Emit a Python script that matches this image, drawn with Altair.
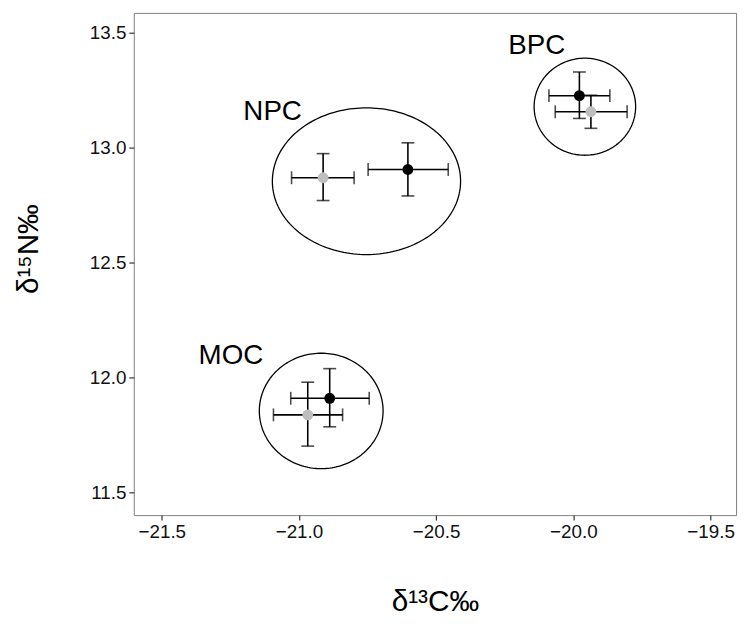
import altair as alt
import numpy as np
import pandas as pd

# ---- data ----
groups = ["NPC", "NPC", "BPC", "BPC", "MOC", "MOC"]
kinds = ["black", "gray", "black", "gray", "black", "gray"]
x_mean = [-20.603, -20.912, -19.978, -19.936, -20.888, -20.968]
x_lo = [-20.748, -21.027, -20.089, -20.066, -21.030, -21.093]
x_hi = [-20.456, -20.799, -19.867, -19.804, -20.744, -20.841]
y_mean = [12.905, 12.869, 13.226, 13.156, 11.910, 11.838]
y_lo = [12.790, 12.770, 13.127, 13.084, 11.786, 11.702]
y_hi = [13.021, 12.974, 13.329, 13.228, 12.039, 11.980]

ell_group = ["NPC", "BPC", "MOC"]
ell_cx = [-20.754, -19.958, -20.919]
ell_cy = [12.854, 13.178, 11.855]
ell_rx = [0.343, 0.185, 0.2255]
ell_ry = [0.319, 0.211, 0.251]

label_text = ["NPC", "BPC", "MOC"]
label_x = [-21.096, -20.133, -21.248]
label_y = [13.153, 13.443, 12.095]

x_ticks = [-21.5, -21.0, -20.5, -20.0, -19.5]
y_ticks = [11.5, 12.0, 12.5, 13.0, 13.5]

df = pd.DataFrame({
    "group": groups, "kind": kinds,
    "x": x_mean, "x_lo": x_lo, "x_hi": x_hi,
    "y": y_mean, "y_lo": y_lo, "y_hi": y_hi,
})

rows = []
theta = np.linspace(0, 2 * np.pi, 181)
for g, cx, cy, rx, ry in zip(ell_group, ell_cx, ell_cy, ell_rx, ell_ry):
    for i, t in enumerate(theta):
        rows.append({"group": g, "i": i, "x": cx + rx * np.cos(t), "y": cy + ry * np.sin(t)})
df_ell = pd.DataFrame(rows)

df_lab = pd.DataFrame({"label": label_text, "x": label_x, "y": label_y})

X_DOM = [-21.602, -19.407]
Y_DOM = [11.402, 13.586]

xs = alt.Scale(domain=X_DOM, nice=False, zero=False)
ys = alt.Scale(domain=Y_DOM, nice=False, zero=False)

xax = alt.Axis(values=x_ticks, format=".1f", title="δ¹³C‰", titlePadding=45)
yax = alt.Axis(values=y_ticks, format=".1f", title="δ¹⁵N‰", titlePadding=46, titleY=238)

X = alt.X("x:Q", scale=xs, axis=xax)
Y = alt.Y("y:Q", scale=ys, axis=yax)

ellipses = alt.Chart(df_ell).mark_line(color="black", strokeWidth=1.3, clip=True).encode(
    x=X, y=Y, detail="group:N", order="i:Q"
)

base = alt.Chart(df)

hbar = base.mark_rule(color="black", strokeWidth=1.6).encode(
    x=alt.X("x_lo:Q", scale=xs), x2="x_hi:Q", y=alt.Y("y:Q", scale=ys)
)
vbar = base.mark_rule(color="black", strokeWidth=1.6).encode(
    y=alt.Y("y_lo:Q", scale=ys), y2="y_hi:Q", x=alt.X("x:Q", scale=xs)
)
hcaps = base.transform_fold(["x_lo", "x_hi"], as_=["k", "xv"]).mark_tick(
    color="black", orient="vertical", size=13, thickness=1.6
).encode(x=alt.X("xv:Q", scale=xs), y=alt.Y("y:Q", scale=ys))
vcaps = base.transform_fold(["y_lo", "y_hi"], as_=["k", "yv"]).mark_tick(
    color="black", orient="horizontal", size=13, thickness=1.6
).encode(y=alt.Y("yv:Q", scale=ys), x=alt.X("x:Q", scale=xs))

points = base.mark_circle(size=120, opacity=1).encode(
    x=alt.X("x:Q", scale=xs),
    y=alt.Y("y:Q", scale=ys),
    color=alt.Color("kind:N", scale=alt.Scale(domain=["black", "gray"], range=["#000000", "#BEBEBE"]), legend=None),
)

labels = alt.Chart(df_lab).mark_text(
    font="Liberation Sans", fontSize=28, color="black", align="center", baseline="middle"
).encode(x=alt.X("x:Q", scale=xs), y=alt.Y("y:Q", scale=ys), text="label:N")

chart = alt.layer(ellipses, hbar, vbar, hcaps, vcaps, points, labels).properties(
    width=608, height=507,
    autosize=alt.AutoSizeParams(type="none"),
    padding={"left": 127, "top": 2, "right": 6, "bottom": 108},
).configure_view(
    stroke="#7F7F7F", strokeWidth=1
).configure_axis(
    grid=False, domain=False, tickColor="#333333", tickSize=5, tickWidth=1.2,
    labelFont="Liberation Sans", labelFontSize=19, labelColor="#111111", labelPadding=3,
    titleFont="Liberation Sans", titleFontSize=30, titleFontWeight="normal", titleColor="#000000",
)

chart.save("out.html", embed_options={"renderer": "svg", "actions": False})
